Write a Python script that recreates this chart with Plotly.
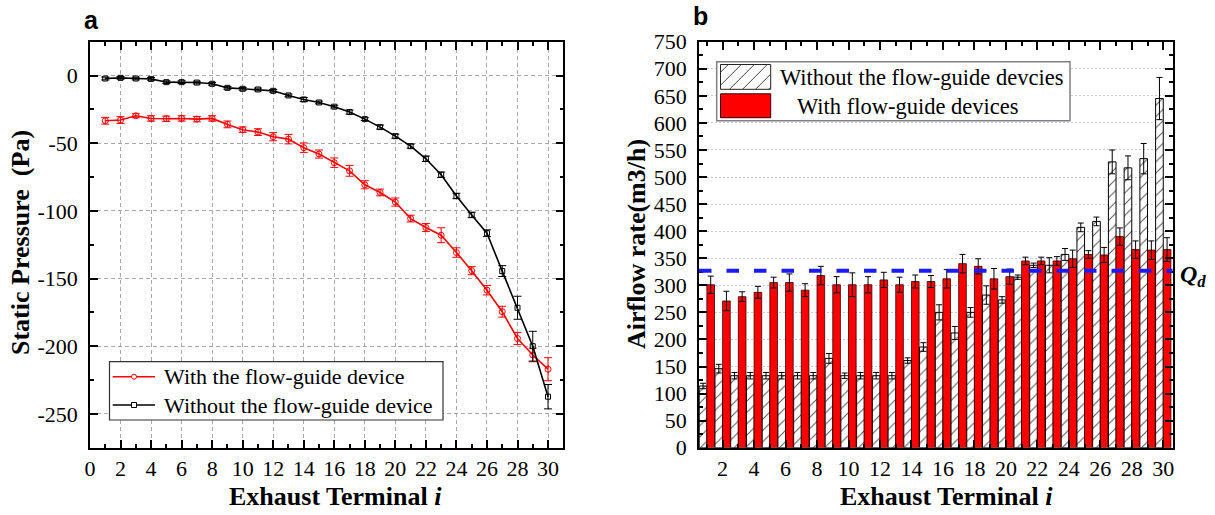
import plotly.graph_objects as go

W, H = 1215, 515

# ---------------- data ----------------
terminals = list(range(1, 31))

# (a) static pressure along the duct, Pa
p_with = [-33.4, -32.9, -29.7, -31.7, -31.9, -31.7, -32.2, -31.7, -36.1, -40.0,
          -41.8, -45.2, -47.0, -53.3, -58.0, -64.4, -70.4, -80.7, -86.4, -93.5,
          -105.7, -112.3, -118.0, -130.8, -144.2, -158.6, -174.5, -194.3, -206.5, -217.0]
p_with_err = [2.5, 2.5, 1.5, 2.0, 2.0, 2.0, 2.0, 2.0, 2.5, 2.0,
              2.5, 3.0, 3.5, 3.5, 3.0, 3.5, 4.0, 3.0, 2.5, 3.0,
              2.5, 3.0, 5.5, 3.5, 3.0, 3.5, 4.0, 4.5, 5.0, 8.5]
p_without = [-2.2, -1.7, -2.2, -2.5, -4.9, -4.9, -5.2, -6.1, -9.1, -9.8,
             -10.3, -11.3, -14.7, -17.7, -19.9, -23.0, -27.0, -32.2, -38.1, -44.8,
             -52.2, -61.5, -73.3, -89.0, -103.0, -116.5, -144.5, -171.6, -200.0, -237.3]
p_without_err = [1.0, 1.0, 1.0, 1.0, 1.0, 1.0, 1.0, 1.0, 1.0, 1.0,
                 1.0, 1.0, 1.0, 1.5, 1.0, 1.0, 1.5, 1.0, 1.5, 1.5,
                 1.5, 2.0, 2.0, 2.0, 2.0, 2.5, 4.0, 8.5, 11.0, 9.0]

# (b) airflow rate of each terminal, m3/h
q_without = [114, 146, 133, 133, 133, 133, 133, 133, 165, 133,
             133, 133, 133, 161, 186, 250, 212, 250, 282, 273,
             315, 337, 337, 357, 407, 418, 528, 517, 534, 645]
q_without_err = [5, 8, 6, 6, 6, 6, 6, 6, 9, 5,
                 6, 6, 6, 5, 8, 14, 12, 9, 17, 6,
                 4, 4, 14, 11, 8, 8, 22, 22, 28, 39]
q_with = [301, 271, 279, 287, 305, 305, 291, 318, 301, 301,
          301, 310, 301, 307, 307, 312, 340, 335, 312, 316,
          345, 345, 345, 349, 357, 356, 390, 366, 365, 366]
q_with_err = [16, 18, 9, 11, 10, 16, 12, 17, 15, 22,
              15, 14, 14, 12, 11, 17, 17, 14, 19, 14,
              7, 7, 8, 16, 7, 14, 16, 16, 17, 22]
Q_D = 327  # design airflow rate

x_ticks_a = list(range(0, 31, 2))
y_ticks_a = list(range(-250, 1, 50))
x_ticks_b = list(range(2, 31, 2))
y_ticks_b = list(range(0, 751, 50))

label_with_a = "With the flow-guide device"
label_without_a = "Without the flow-guide device"
label_without_b = "Without the flow-guide devcies"
label_with_b = "With flow-guide devices"

SERIF = "Liberation Serif"


def px(x):
    return x / W


def py(y):
    return 1 - y / H


fig = go.Figure()

# ---------------- panel a ----------------
fig.add_trace(go.Scatter(
    x=terminals, y=p_with, mode="lines+markers", name=label_with_a,
    line=dict(color="#ff0000", width=1.6),
    marker=dict(symbol="circle-open", size=6, color="#ff0000", line=dict(width=1)),
    error_y=dict(type="data", array=p_with_err, color="#ff0000", thickness=1, width=4),
    xaxis="x", yaxis="y", showlegend=False))
fig.add_trace(go.Scatter(
    x=terminals, y=p_without, mode="lines+markers", name=label_without_a,
    line=dict(color="black", width=1.6),
    marker=dict(symbol="square-open", size=5, color="black", line=dict(width=1)),
    error_y=dict(type="data", array=p_without_err, color="black", thickness=1, width=4),
    xaxis="x", yaxis="y", showlegend=False))

# ---------------- panel b ----------------
fig.add_trace(go.Bar(
    x=terminals, y=q_without, name=label_without_b,
    marker=dict(color="white", line=dict(color="black", width=1),
                pattern=dict(shape="/", size=8, solidity=0.12,
                             fgcolor="#505050", bgcolor="white")),
    error_y=dict(type="data", array=q_without_err, color="black", thickness=1, width=3),
    xaxis="x2", yaxis="y2", showlegend=False))
fig.add_trace(go.Bar(
    x=terminals, y=q_with, name=label_with_b,
    marker=dict(color="#ff0000", line=dict(color="#300000", width=0.8)),
    error_y=dict(type="data", array=q_with_err, color="black", thickness=1, width=3),
    xaxis="x2", yaxis="y2", showlegend=False))

axis_common = dict(
    showline=True, linecolor="black", linewidth=1.6, mirror="ticks",
    ticks="inside", ticklen=8, tickwidth=1.5, tickcolor="black",
    zeroline=False, automargin=False,
    tickfont=dict(family=SERIF, size=22, color="black"),
)


def minor(step):
    return dict(dtick=step, tick0=0, ticks="inside", ticklen=4, tickwidth=1.5,
                tickcolor="black", showgrid=False)


fig.update_layout(
    template="none",
    font=dict(family=SERIF, size=22, color="black"),
    width=W, height=H, autosize=False,
    margin=dict(l=0, r=0, t=0, b=0, pad=0),
    paper_bgcolor="white", plot_bgcolor="white",
    barmode="group", bargap=0.03, bargroupgap=0.0,
    showlegend=False,
    xaxis=dict(domain=[px(90), px(563.3)], range=[0, 31],
               tickvals=x_ticks_a, ticktext=[str(v) for v in x_ticks_a],
               showgrid=True, gridcolor="#a8a8a8", griddash="4px,3px", gridwidth=1,
               minor=minor(1), ticklabelstandoff=0, anchor="y", **axis_common),
    yaxis=dict(domain=[py(447.7), py(41.7)], range=[-275, 25],
               tickvals=y_ticks_a, ticktext=[str(v) for v in y_ticks_a],
               showgrid=True, gridcolor="#a8a8a8", griddash="4px,3px", gridwidth=1,
               minor=minor(25), ticklabelstandoff=6, anchor="x", **axis_common),
    xaxis2=dict(domain=[px(699), px(1172.7)], range=[0.5, 30.6],
                tickvals=x_ticks_b, ticktext=[str(v) for v in x_ticks_b],
                showgrid=False, minor=minor(1), ticklabelstandoff=0, anchor="y2",
                **axis_common),
    yaxis2=dict(domain=[py(447.7), py(41.7)], range=[0, 750],
                tickvals=y_ticks_b, ticktext=[str(v) for v in y_ticks_b],
                showgrid=True, gridcolor="#c8c8dc", griddash="2px,2px", gridwidth=1,
                minor=minor(25), ticklabelstandoff=6, anchor="x2", **axis_common),
)

shapes = []
annotations = []


def note(text, x, y, size, xanchor="center", family=SERIF, angle=0):
    return dict(text=text, x=px(x), y=py(y), xref="paper", yref="paper",
                xanchor=xanchor, yanchor="middle", showarrow=False, textangle=angle,
                font=dict(family=family, size=size, color="black"))


# design flow line Q_d
shapes.append(dict(type="line", xref="x2", yref="y2", x0=0.5, x1=30.6, y0=Q_D, y1=Q_D,
                   line=dict(color="#1a1aff", width=4, dash="12.5px,15px"), layer="above"))
annotations.append(note("<b><i>Q<sub>d</sub></i></b>", 1193, 276, 24))

# ---- legend of panel a ----
shapes.append(dict(type="rect", xref="paper", yref="paper",
                   x0=px(109.5), x1=px(443), y0=py(420), y1=py(361.7),
                   line=dict(color="#333333", width=1.2), fillcolor="white", layer="above"))
for yy, col, sym in [(376.7, "#ff0000", "circle"), (405, "black", "square")]:
    shapes.append(dict(type="line", xref="paper", yref="paper",
                       x0=px(112.7), x1=px(155), y0=py(yy), y1=py(yy),
                       line=dict(color=col, width=1.6), layer="above"))
    shapes.append(dict(type="circle" if sym == "circle" else "rect",
                       xref="paper", yref="paper",
                       x0=px(131.5), x1=px(136.5), y0=py(yy + 2.5), y1=py(yy - 2.5),
                       line=dict(color=col, width=1), fillcolor="white", layer="above"))
annotations.append(note(label_with_a, 161.5, 376.7, 22, xanchor="left"))
annotations.append(note(label_without_a, 161.5, 405, 22, xanchor="left"))

# ---- legend of panel b ----
shapes.append(dict(type="rect", xref="paper", yref="paper",
                   x0=px(716.7), x1=px(1070), y0=py(120.7), y1=py(61.7),
                   line=dict(color="#808080", width=1.5), fillcolor="white", layer="above"))
sx0, sx1, sy0, sy1 = 720.5, 770.7, 64.5, 89.3
shapes.append(dict(type="rect", xref="paper", yref="paper",
                   x0=px(sx0), x1=px(sx1), y0=py(sy1), y1=py(sy0),
                   line=dict(color="#222222", width=1), fillcolor="white", layer="above"))
# diagonal hatch inside the swatch
step = 13.0
c = sx0 + sy0 + step * 0.6
while c < sx1 + sy1:
    xa = max(sx0, c - sy1)
    xb = min(sx1, c - sy0)
    if xb > xa:
        shapes.append(dict(type="line", xref="paper", yref="paper",
                           x0=px(xa), y0=py(c - xa), x1=px(xb), y1=py(c - xb),
                           line=dict(color="#404040", width=1), layer="above"))
    c += step
shapes.append(dict(type="rect", xref="paper", yref="paper",
                   x0=px(sx0), x1=px(sx1), y0=py(117.7), y1=py(93.8),
                   line=dict(color="#300000", width=1), fillcolor="#ff0000", layer="above"))
annotations.append(note(label_without_b, 778, 77.3, 22.5, xanchor="left"))
annotations.append(note(label_with_b, 795, 106, 22.5, xanchor="left"))

# ---- panel letters and axis titles ----
annotations += [
    note("<b>a</b>", 91.5, 20, 25, family="Liberation Sans"),
    note("<b>b</b>", 700.5, 16, 25, family="Liberation Sans"),
    note("<b>Static Pressure&nbsp; (Pa)</b>", 20, 243, 26, angle=-90),
    note("<b>Exhaust Terminal <i>i</i></b>", 336, 496, 26),
    note("<b>Airflow rate(m3/h)</b>", 637, 244, 26, angle=-90),
    note("<b>Exhaust Terminal <i>i</i></b>", 946, 496, 26),
]

fig.update_layout(shapes=shapes, annotations=annotations)

fig.write_html("out.html")
